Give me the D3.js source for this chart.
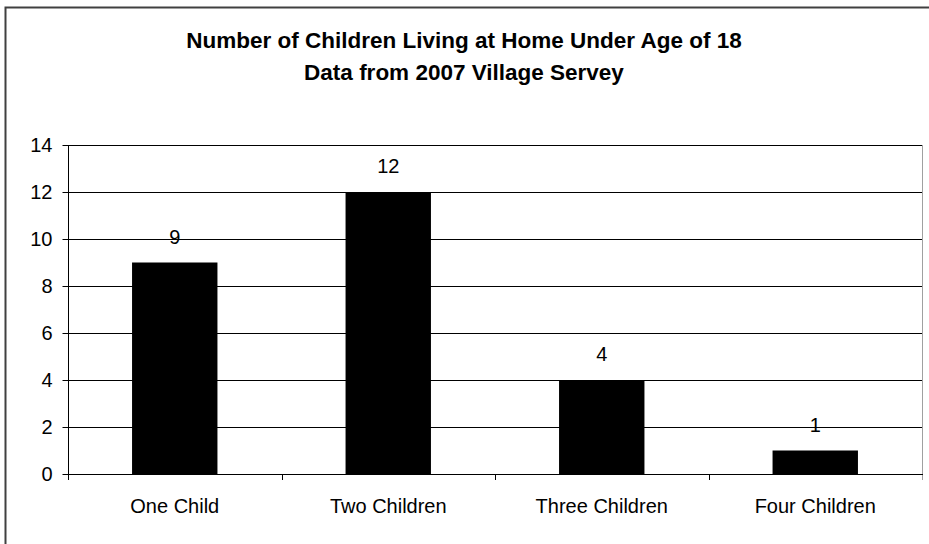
<!DOCTYPE html>
<html>
<head>
<meta charset="utf-8">
<script src="https://cdn.jsdelivr.net/npm/d3@7"></script>
<style>
  html, body { margin: 0; padding: 0; background: #fff; }
  svg { display: block; }
  text { font-family: "Liberation Sans", Arial, sans-serif; fill: #000; }
</style>
</head>
<body>
<svg id="chart" width="929" height="544"></svg>
<script>
// Survey results: households by number of children under 18
const categories = ["One Child", "Two Children", "Three Children", "Four Children"];
const counts = [9, 12, 4, 1];
const yTicks = [0, 2, 4, 6, 8, 10, 12, 14];
const titleLines = ["Number of Children Living at Home Under Age of 18", "Data from 2007 Village Servey"];

const svg = d3.select("#chart");
const plot = { left: 68, right: 922, top: 145, bottom: 474 };
const FONT = "'Liberation Sans', Arial, sans-serif";

// outer chart frame
svg.append("rect")
  .attr("x", 5.5).attr("y", 7.5)
  .attr("width", 940).attr("height", 560)
  .attr("fill", "#fff").attr("stroke", "#404040").attr("stroke-width", 2);

// title
svg.append("g").selectAll("text")
  .data(titleLines)
  .join("text")
  .attr("x", 464)
  .attr("y", (d, i) => 47.5 + i * 32.5)
  .attr("text-anchor", "middle")
  .style("font-size", "22.5px")
  .style("font-weight", "bold")
  .text(d => d);

const x = d3.scaleBand()
  .domain(categories)
  .range([plot.left, plot.right])
  .paddingInner(0.6)
  .paddingOuter(0.3);

const y = d3.scaleLinear()
  .domain([0, 14])
  .range([plot.bottom, plot.top]);

// horizontal gridlines
svg.append("g").selectAll("line")
  .data(yTicks.filter(d => d > 0))
  .join("line")
  .attr("x1", plot.left).attr("x2", plot.right)
  .attr("y1", d => Math.round(y(d)) + 0.5).attr("y2", d => Math.round(y(d)) + 0.5)
  .attr("stroke", "#000").attr("stroke-width", 1);

// plot area right edge
svg.append("line")
  .attr("x1", plot.right + 0.5).attr("x2", plot.right + 0.5)
  .attr("y1", plot.top).attr("y2", plot.bottom + 6)
  .attr("stroke", "#a0a0a0").attr("stroke-width", 1);

// bars
svg.append("g").selectAll("rect")
  .data(counts)
  .join("rect")
  .attr("x", (d, i) => x(categories[i]))
  .attr("y", d => y(d))
  .attr("width", x.bandwidth())
  .attr("height", d => y(0) - y(d))
  .attr("fill", "#000");

// value labels
svg.append("g").selectAll("text")
  .data(counts)
  .join("text")
  .attr("x", (d, i) => x(categories[i]) + x.bandwidth() / 2)
  .attr("y", d => y(d) - 19)
  .attr("text-anchor", "middle")
  .style("font-size", "20px")
  .text(d => d);

// y axis
const yAxis = d3.axisLeft(y).tickValues(yTicks).tickSize(6).tickPadding(10).tickFormat(d3.format("d"));
const gy = svg.append("g")
  .attr("transform", `translate(${plot.left + 0.5},0)`)
  .call(yAxis);
gy.select(".domain").remove();
gy.selectAll("line").attr("stroke", "#000");
gy.selectAll("text").style("font-size", "20px").style("font-family", FONT);
svg.append("line")
  .attr("x1", plot.left + 0.5).attr("x2", plot.left + 0.5)
  .attr("y1", plot.top).attr("y2", plot.bottom + 6)
  .attr("stroke", "#000");

// x axis baseline, category divider ticks and labels
svg.append("line")
  .attr("x1", plot.left).attr("x2", plot.right + 1)
  .attr("y1", plot.bottom + 0.5).attr("y2", plot.bottom + 0.5)
  .attr("stroke", "#000");

const step = (plot.right - plot.left) / categories.length;
svg.append("g").selectAll("line")
  .data(d3.range(1, categories.length))
  .join("line")
  .attr("x1", i => Math.round(plot.left + i * step) + 0.5)
  .attr("x2", i => Math.round(plot.left + i * step) + 0.5)
  .attr("y1", plot.bottom).attr("y2", plot.bottom + 6)
  .attr("stroke", "#000");

svg.append("g").selectAll("text")
  .data(categories)
  .join("text")
  .attr("x", d => x(d) + x.bandwidth() / 2)
  .attr("y", 513)
  .attr("text-anchor", "middle")
  .style("font-size", "20px")
  .text(d => d);
</script>
</body>
</html>
